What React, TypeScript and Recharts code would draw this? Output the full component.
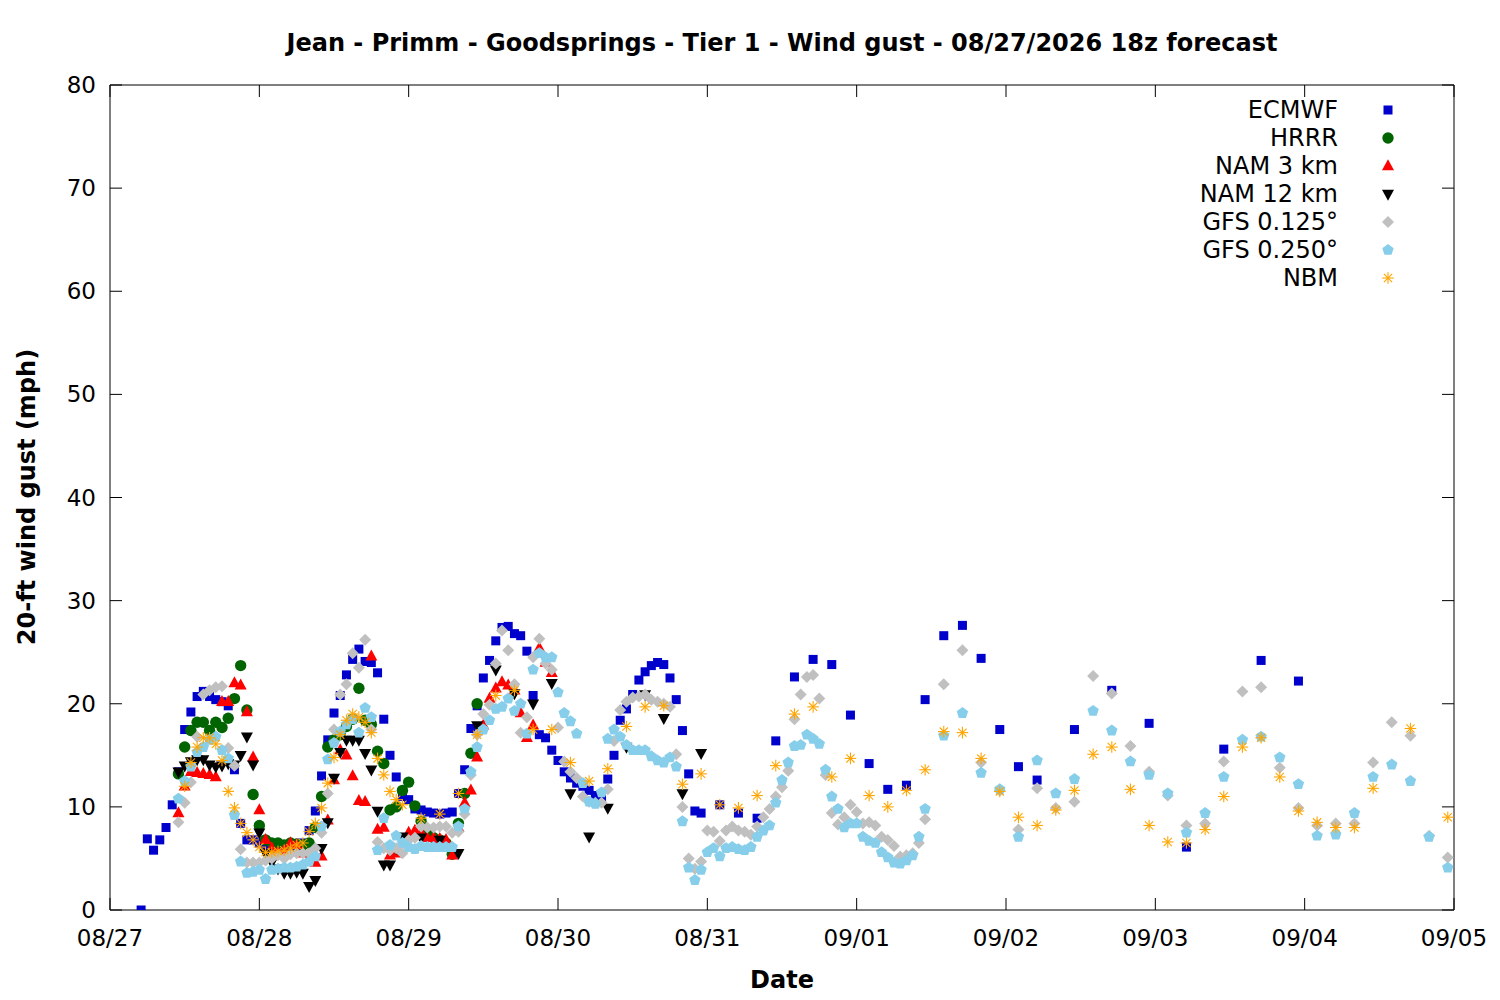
import { Scatter, ScatterChart, XAxis, YAxis } from "recharts";

// hours are counted from 08/27 00 local time
const dateLabels = ["08/27", "08/28", "08/29", "08/30", "08/31", "09/01", "09/02", "09/03", "09/04", "09/05"];
const yTicks = [0, 10, 20, 30, 40, 50, 60, 70, 80];

const ecmwfHourlyStart = 5;
const ecmwfHourly = [
  0, 6.9, 5.8, 6.8, 8.0, 10.2, 13.4, 17.5, 19.2, 20.7,
  21.2, 20.7, 20.4, 20.2, 19.8, 13.6, 8.4, 6.8, 6.8, 6.5,
  6.2, 6.0, 5.8, 5.9, 6.0, 6.2, 6.5, 7.7, 9.6, 13.0,
  16.5, 19.1, 20.8, 22.8, 24.3, 25.3, 24.1, 24.0, 23.0, 18.5,
  15.0, 12.9, 11.0, 10.7, 9.8, 9.7, 9.5, 9.4, 9.3, 9.4,
  9.5, 11.3, 13.6, 17.6, 19.8, 22.5, 24.2, 26.1, 27.4, 27.5,
  26.8, 26.6, 25.1, 20.8, 17.0, 16.7, 15.5, 14.5, 13.4, 12.8,
  12.3, 12.0, 11.6, 11.1, 10.7, 12.7, 15.0, 18.4, 19.5, 20.9,
  22.3, 23.1, 23.7, 24.0, 23.8, 22.5, 20.4, 17.4, 13.2, 9.6,
  9.4,
];
const ecmwf3hStart = 98;
const ecmwf3h = [10.2, 9.4, 8.9, 16.4, 22.6, 24.3, 23.8, 18.9, 14.2, 11.7, 12.1, 20.4, 26.6, 27.6, 24.4, 17.5, 13.9, 12.6];
const ecmwf6hStart = 155;
const ecmwf6h = [17.5, 21.3, 18.1, 6.1, 15.6, 24.2, 22.2];

const hrrrStart = 11;
const hrrrHourly = [
  13.2, 15.8, 17.4, 18.2, 18.2, 17.4, 18.2, 17.7, 18.6, 20.5,
  23.7, 19.4, 11.2, 8.2, 6.8, 6.5, 6.5, 6.3, 6.5, 6.4,
  6.3, 6.5, 8.0, 11.0, 15.8, 16.5, 17.0, 17.8, 18.5, 21.5,
  18.4, 18.0, 15.4, 14.2, 9.7, 10.0, 11.6, 12.4, 10.1, 8.6,
  7.5, 7.0, 6.8, 6.5, 5.4, 8.4, 11.3, 15.2, 20.0,
];

const nam3Start = 11;
const nam3Hourly = [
  9.4, 12.0, 13.4, 13.3, 13.2, 13.1, 12.9, 20.2, 20.2, 22.0,
  21.8, 19.2, 14.8, 9.7, 6.8, 6.0, 5.6, 5.8, 6.5, 6.3,
  5.5, 5.0, 4.6, 5.2, 8.7, 12.6, 15.5, 15.0, 13.0, 10.6,
  10.5, 24.6, 7.8, 8.0, 5.3, 5.5, 6.5, 7.5, 7.7, 7.5,
  7.0, 7.0, 6.9, 6.8, 5.3, 8.0, 10.4, 11.6, 14.8, 17.9,
  20.5, 21.5, 22.1, 21.8, 21.3, 19.1, 16.7, 17.9, 25.4, 24.0,
  23.0,
];

const nam12HourlyStart = 11;
const nam12Hourly = [
  13.4, 14.0, 14.4, 14.6, 14.6, 14.1, 13.9, 14.0, 14.2, 14.1,
  15.0, 16.8, 14.1, 7.5, 5.5, 4.6, 4.0, 3.6, 3.6, 3.7,
  3.6, 2.3, 2.9, 6.0, 8.5, 12.8, 15.3, 16.5, 16.5, 16.5,
  15.2, 13.6, 9.6, 4.4, 4.4, 6.0, 7.1,
];
const nam12ThreeHourlyStart = 50;
const nam12ThreeHourly = [7.0, 6.8, 5.5, 17.9, 23.3, 21.0, 20.0, 22.0, 11.3, 7.1, 9.9, 15.8, 20.9, 18.6, 11.3, 15.2];

const gfs125HourlyStart = 11;
const gfs125Hourly = [
  8.5, 10.4, 12.4, 16.8, 20.9, 21.3, 21.6, 21.7, 15.7, 14.0,
  5.9, 4.6, 4.6, 4.6, 4.8, 5.0, 5.3, 5.0, 5.4, 5.5,
  5.5, 5.5, 6.0, 7.5, 11.3, 17.5, 20.9, 21.9, 24.9, 23.5,
  26.2, 17.5, 6.6, 6.0, 5.8, 6.0, 5.5, 6.8, 7.0, 8.1,
  8.0, 8.0, 8.1, 8.1, 7.5, 7.6, 9.3, 13.1, 17.0, 19.0,
  19.9, 23.9, 27.1, 25.2, 21.9, 17.2, 18.7, 24.5, 26.3, 23.9,
  23.3, 17.7, 14.4, 13.4, 12.8, 11.0, 10.5, 10.4, 10.4, 11.7,
  16.4, 19.4, 20.2, 20.6, 20.7, 20.9, 20.4, 20.2, 20.0, 19.7,
  15.1, 10.0, 5.0, 4.0, 4.7, 7.7, 7.6, 6.7, 7.7, 8.1,
  7.7, 7.6, 7.3, 8.1, 9.0, 9.8, 11.0, 11.9, 13.5, 18.5,
  20.9, 22.6, 22.8, 20.5, 13.1, 9.4, 8.3, 9.0, 10.2, 9.5,
  8.4, 8.5, 8.2, 7.1, 6.8, 6.2, 5.2, 5.3, 5.5, 6.5, 8.8,
];
const gfs125ThreeHourlyStart = 134;
const gfs125ThreeHourly = [
  21.9, 25.2, 14.3, 11.6, 7.8, 11.8, 9.9, 10.5, 22.7, 21.0,
  15.9, 13.4, 11.1, 8.2, 8.4, 14.4, 21.2, 21.6, 13.8, 9.9,
  8.2, 8.4, 8.4, 14.3, 18.2, 16.9, 7.2, 5.1,
];

const gfs250HourlyStart = 11;
const gfs250Hourly = [
  10.8, 12.5, 13.9, 15.3, 15.8, 16.5, 16.8, 15.5, 14.7, 9.2,
  4.7, 3.6, 3.7, 3.9, 3.0, 3.9, 4.0, 4.1, 4.1, 4.2,
  4.4, 4.7, 5.2, 8.1, 14.6, 16.2, 17.3, 18.0, 18.5, 17.2,
  19.6, 18.7, 5.8, 8.9, 6.3, 7.2, 6.5, 6.1, 5.9, 6.2,
  6.1, 6.1, 6.1, 6.1, 6.1, 8.1, 9.8, 13.4, 15.8, 17.5,
  18.4, 19.5, 19.7, 20.5, 19.3, 20.0, 17.1, 23.3, 24.9, 24.5,
  24.5, 21.1, 19.1, 18.3, 17.1, 12.3, 10.5, 10.3, 11.4, 16.6,
  17.5, 16.8, 16.0, 15.5, 15.5, 15.5, 14.9, 14.5, 14.3, 14.8,
  13.9, 8.6, 4.1, 2.9, 3.9, 5.6, 6.0, 5.2, 6.0, 6.1,
  5.9, 5.8, 6.1, 7.1, 7.7, 8.2, 10.4, 12.6, 14.3, 15.9,
  16.0, 17.0, 16.6, 16.1, 13.6, 11.0, 9.8, 8.0, 8.4, 8.4,
  7.1, 6.7, 6.5, 5.6, 5.1, 4.6, 4.5, 4.8, 5.3, 7.1, 9.8,
];
const gfs250ThreeHourlyStart = 134;
const gfs250ThreeHourly = [
  16.9, 19.1, 13.3, 11.7, 7.1, 14.5, 11.3, 12.7, 19.3, 17.4,
  14.4, 13.1, 11.3, 7.5, 9.4, 12.9, 16.5, 16.8, 14.8, 12.2,
  7.2, 7.3, 9.4, 12.9, 14.1, 12.5, 7.1, 4.1,
];

const nbmHourlyStart = 12;
const nbmHourly = [
  12.0, 14.3, 15.8, 16.7, 16.7, 16.1, 14.5, 11.5, 9.9, 8.4,
  7.5, 6.8, 6.1, 5.6, 5.6, 5.7, 5.8, 6.0, 6.3, 6.5,
  7.6, 8.4, 9.9, 12.3, 14.8, 17.0, 18.4, 19.0, 18.7, 18.2,
  17.2, 14.7, 13.1, 11.5, 10.7, 10.2,
];
const nbmThreeHourlyStart = 50;
const nbmThreeHourly: (number | null)[] = [
  8.9, 9.3, 11.3, 17.0, 20.8, 21.3, 17.5, 17.5,
  14.3, 12.5, 13.7, 17.8, 19.7, 19.8, 12.2, 13.2,
  10.2, 9.9, 11.1, 14.0, 19.0, 19.7, 12.9, 14.7,
  11.1, 10.0, 11.6, 13.6, 17.3, 17.2, 14.7, 11.5,
  9.0, 8.2, 9.7, 11.6, 15.1, 15.8, 11.7, 8.2,
  6.6, 6.5, 7.8, 11.0, 15.8, 16.7, 12.9, 9.6,
  8.5, 8.0, 8.0, 11.8, null, 17.6, null, 9.0,
];

type Point = { h: number; v: number };

function run(start: number, step: number, values: (number | null)[]): Point[] {
  const out: Point[] = [];
  values.forEach((v, i) => {
    if (v !== null) out.push({ h: start + i * step, v });
  });
  return out;
}

const ecmwfData = [
  ...run(ecmwfHourlyStart, 1, ecmwfHourly),
  ...run(ecmwf3hStart, 3, ecmwf3h),
  ...run(ecmwf6hStart, 6, ecmwf6h),
];
const hrrrData = run(hrrrStart, 1, hrrrHourly);
const nam3Data = run(nam3Start, 1, nam3Hourly);
const nam12Data = [
  ...run(nam12HourlyStart, 1, nam12Hourly),
  ...run(nam12ThreeHourlyStart, 3, nam12ThreeHourly),
];
const gfs125Data = [
  ...run(gfs125HourlyStart, 1, gfs125Hourly),
  ...run(gfs125ThreeHourlyStart, 3, gfs125ThreeHourly),
];
const gfs250Data = [
  ...run(gfs250HourlyStart, 1, gfs250Hourly),
  ...run(gfs250ThreeHourlyStart, 3, gfs250ThreeHourly),
];
const nbmData = [
  ...run(nbmHourlyStart, 1, nbmHourly),
  ...run(nbmThreeHourlyStart, 3, nbmThreeHourly),
];

const dayTicks = dateLabels.map((_, i) => i * 24);

const COLORS = {
  ecmwf: "#0000cc",
  hrrr: "#006400",
  nam3: "#ff0000",
  nam12: "#000000",
  gfs125: "#c0c0c0",
  gfs250: "#87ceeb",
  nbm: "#ffa500",
};

const FONT = "'DejaVu Sans', sans-serif";
const TICK_LEN = 12;
const TICK_FONT = 23;
const LABEL_FONT = 24;

type Mark = { cx?: number; cy?: number };

const SquareMark = ({ cx = 0, cy = 0 }: Mark) => (
  <rect x={cx - 4.5} y={cy - 4.5} width={9} height={9} fill={COLORS.ecmwf} />
);

const CircleMark = ({ cx = 0, cy = 0 }: Mark) => (
  <circle cx={cx} cy={cy} r={5.7} fill={COLORS.hrrr} />
);

const TriUpMark = ({ cx = 0, cy = 0 }: Mark) => (
  <polygon
    points={`${cx},${cy - 6.8} ${cx + 6},${cy + 4.2} ${cx - 6},${cy + 4.2}`}
    fill={COLORS.nam3}
  />
);

const TriDownMark = ({ cx = 0, cy = 0 }: Mark) => (
  <polygon
    points={`${cx},${cy + 6.8} ${cx + 6},${cy - 4.2} ${cx - 6},${cy - 4.2}`}
    fill={COLORS.nam12}
  />
);

const DiamondMark = ({ cx = 0, cy = 0 }: Mark) => (
  <polygon
    points={`${cx},${cy - 6} ${cx + 6},${cy} ${cx},${cy + 6} ${cx - 6},${cy}`}
    fill={COLORS.gfs125}
  />
);

const PentagonMark = ({ cx = 0, cy = 0 }: Mark) => {
  const pts = [0, 1, 2, 3, 4]
    .map((k) => {
      const a = ((-90 + 72 * k) * Math.PI) / 180;
      return `${cx + 6 * Math.cos(a)},${cy + 6 * Math.sin(a)}`;
    })
    .join(" ");
  return <polygon points={pts} fill={COLORS.gfs250} />;
};

const StarMark = ({ cx = 0, cy = 0 }: Mark) => {
  const r = 5.8;
  const d = r * 0.707;
  return (
    <g stroke={COLORS.nbm} strokeWidth={1.1}>
      <line x1={cx - r} y1={cy} x2={cx + r} y2={cy} />
      <line x1={cx} y1={cy - r} x2={cx} y2={cy + r} />
      <line x1={cx - d} y1={cy - d} x2={cx + d} y2={cy + d} />
      <line x1={cx - d} y1={cy + d} x2={cx + d} y2={cy - d} />
    </g>
  );
};

const seriesList = [
  { name: "ECMWF", data: ecmwfData, Mark: SquareMark },
  { name: "HRRR", data: hrrrData, Mark: CircleMark },
  { name: "NAM 3 km", data: nam3Data, Mark: TriUpMark },
  { name: "NAM 12 km", data: nam12Data, Mark: TriDownMark },
  { name: "GFS 0.125°", data: gfs125Data, Mark: DiamondMark },
  { name: "GFS 0.250°", data: gfs250Data, Mark: PentagonMark },
  { name: "NBM", data: nbmData, Mark: StarMark },
];

type TickProps = { x?: number; y?: number; payload?: { value: number } };

const BottomTick = ({ x = 0, y = 0, payload }: TickProps) => (
  <g>
    <line x1={x} x2={x} y1={y} y2={y - TICK_LEN} stroke="#000" />
    <text x={x} y={y + 36} textAnchor="middle" fontSize={TICK_FONT} fontFamily={FONT} fill="#000">
      {dateLabels[Math.round((payload?.value ?? 0) / 24)]}
    </text>
  </g>
);

const TopTick = ({ x = 0, y = 0 }: TickProps) => (
  <line x1={x} x2={x} y1={y} y2={y + TICK_LEN} stroke="#000" />
);

const LeftTick = ({ x = 0, y = 0, payload }: TickProps) => (
  <g>
    <line x1={x} x2={x + TICK_LEN} y1={y} y2={y} stroke="#000" />
    <text x={x - 14} y={y + 8} textAnchor="end" fontSize={TICK_FONT} fontFamily={FONT} fill="#000">
      {payload?.value}
    </text>
  </g>
);

const RightTick = ({ x = 0, y = 0 }: TickProps) => (
  <line x1={x} x2={x - TICK_LEN} y1={y} y2={y} stroke="#000" />
);

function LegendBox() {
  return (
    <div
      style={{
        position: "absolute",
        left: 1098,
        top: 96,
        width: 300,
        fontFamily: FONT,
        fontSize: LABEL_FONT,
        color: "#000",
      }}
    >
      {seriesList.map(({ name, Mark }) => (
        <div
          key={name}
          style={{
            display: "flex",
            justifyContent: "flex-end",
            alignItems: "center",
            height: 28,
          }}
        >
          <span style={{ lineHeight: "28px" }}>{name}</span>
          <svg width={20} height={20} style={{ marginLeft: 40 }}>
            <Mark cx={10} cy={10} />
          </svg>
        </div>
      ))}
    </div>
  );
}

const textBlock = {
  position: "absolute" as const,
  textAlign: "center" as const,
  fontWeight: "bold" as const,
  fontSize: LABEL_FONT,
  lineHeight: "28px",
};

export default function App() {
  return (
    <div
      style={{
        position: "absolute",
        left: 0,
        top: 0,
        width: 1500,
        height: 1000,
        background: "#fff",
        fontFamily: FONT,
      }}
    >
      <ScatterChart
        width={1500}
        height={1000}
        margin={{ top: 75, right: 36, bottom: 50, left: 50 }}
      >
        <XAxis
          xAxisId={0}
          dataKey="h"
          type="number"
          domain={[0, 216]}
          ticks={dayTicks}
          interval={0}
          allowDataOverflow
          height={40}
          tickSize={0}
          tickMargin={0}
          tickLine={false}
          axisLine={{ stroke: "#000" }}
          tick={<BottomTick />}
        />
        <XAxis
          xAxisId="top"
          orientation="top"
          dataKey="h"
          type="number"
          domain={[0, 216]}
          ticks={dayTicks}
          interval={0}
          allowDataOverflow
          height={10}
          tickSize={0}
          tickMargin={0}
          tickLine={false}
          axisLine={{ stroke: "#000" }}
          tick={<TopTick />}
        />
        <YAxis
          yAxisId={0}
          dataKey="v"
          type="number"
          domain={[0, 80]}
          ticks={yTicks}
          interval={0}
          allowDataOverflow
          width={60}
          tickSize={0}
          tickMargin={0}
          tickLine={false}
          axisLine={{ stroke: "#000" }}
          tick={<LeftTick />}
        />
        <YAxis
          yAxisId="right"
          orientation="right"
          dataKey="v"
          type="number"
          domain={[0, 80]}
          ticks={yTicks}
          interval={0}
          allowDataOverflow
          width={10}
          tickSize={0}
          tickMargin={0}
          tickLine={false}
          axisLine={{ stroke: "#000" }}
          tick={<RightTick />}
        />
        {seriesList.map(({ name, data, Mark }) => (
          <Scatter
            key={name}
            name={name}
            data={data}
            dataKey="v"
            isAnimationActive={false}
            shape={(p: Mark) => <Mark cx={p.cx} cy={p.cy} />}
          />
        ))}
      </ScatterChart>

      <LegendBox />

      <div style={{ ...textBlock, left: 110, width: 1344, top: 29 }}>
        Jean - Primm - Goodsprings - Tier 1 - Wind gust - 08/27/2026 18z forecast
      </div>
      <div style={{ ...textBlock, left: 110, width: 1344, top: 966 }}>Date</div>
      <div
        style={{
          ...textBlock,
          left: 27 - 300,
          top: 497 - 14,
          width: 600,
          height: 28,
          transform: "rotate(-90deg)",
        }}
      >
        20-ft wind gust (mph)
      </div>
    </div>
  );
}
